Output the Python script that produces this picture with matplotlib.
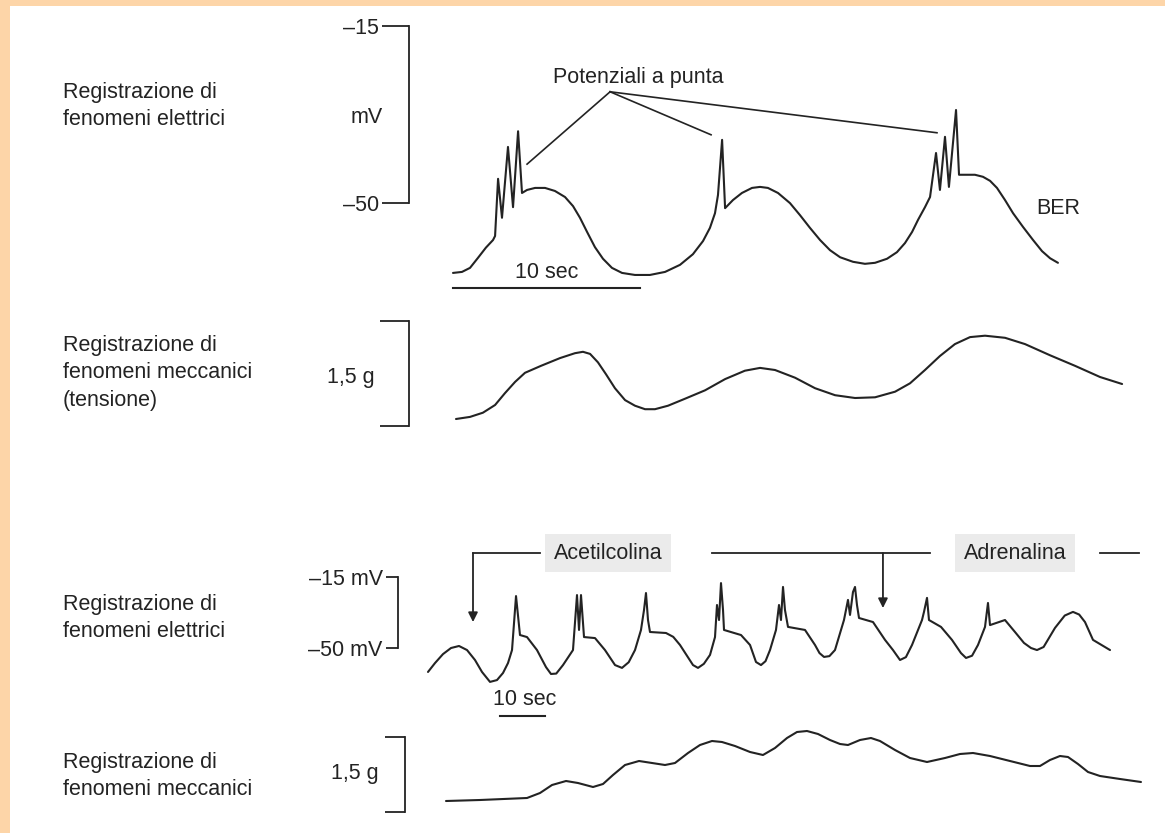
import matplotlib.pyplot as plt
from matplotlib.patches import Rectangle

plt.rcParams['font.family'] = ['Liberation Sans', 'DejaVu Sans']

# ------------------------------------------------------------------------------
# data
# ------------------------------------------------------------------------------

# panel 1: electrical recording (s, mV)
t_elec1 = [0.0, 0.48, 0.91, 1.34, 1.76, 2.14, 2.25, 2.41, 2.62, 2.94, 3.21, 3.48,
           3.69, 3.96, 4.39, 4.92, 5.45, 5.99, 6.42, 6.79, 7.17, 7.59, 8.02, 8.5,
           9.04, 9.73, 10.53, 11.34, 12.14, 12.83, 13.37, 13.74, 14.01, 14.17,
           14.39, 14.55, 14.97, 15.45, 15.99, 16.42, 16.84, 17.38, 18.02, 18.56,
           19.09, 19.63, 20.16, 20.7, 21.39, 22.03, 22.57, 23.21, 23.74, 24.17,
           24.55, 24.87, 25.24, 25.51, 25.83, 26.04, 26.31, 26.52, 26.9, 27.06,
           27.91, 28.34, 28.72, 29.09, 29.52, 29.95, 30.48, 31.02, 31.5, 31.93,
           32.35]
mv_elec1 = [-63.8, -63.6, -62.8, -60.8, -58.8, -57.3, -56.5, -45.2, -52.9, -38.9,
            -50.8, -35.8, -48.0, -47.4, -47.0, -47.0, -47.6, -48.8, -50.6, -52.9,
            -55.7, -58.7, -61.0, -62.8, -63.8, -64.2, -64.2, -63.6, -62.2, -60.1,
            -57.5, -54.9, -52.0, -48.4, -37.5, -51.0, -49.4, -48.0, -47.0, -46.8,
            -47.0, -48.0, -50.0, -52.4, -54.9, -57.3, -59.3, -60.7, -61.6, -62.0,
            -61.8, -61.0, -59.7, -57.9, -55.7, -53.3, -50.8, -48.8, -40.1, -47.4,
            -36.9, -46.8, -31.6, -44.4, -44.4, -44.8, -45.6, -47.0, -49.4, -52.0,
            -54.7, -57.3, -59.5, -60.9, -61.8]

# panel 2: mechanical recording, tension (s, g)
t_mech1 = [0.16, 0.91, 1.6, 2.25, 2.78, 3.32, 3.85, 4.71, 5.72, 6.52, 6.95, 7.33,
           7.75, 8.18, 8.66, 9.2, 9.73, 10.27, 10.8, 11.5, 12.41, 13.48, 14.55,
           15.61, 16.42, 17.22, 18.29, 19.36, 20.43, 21.5, 22.57, 23.64, 24.44,
           25.24, 26.04, 26.84, 27.65, 28.45, 29.52, 30.59, 31.93, 33.26, 34.6,
           35.78]
g_mech1 = [0.10, 0.13, 0.19, 0.30, 0.47, 0.63, 0.76, 0.86, 0.97, 1.04, 1.06, 1.03,
           0.91, 0.74, 0.54, 0.37, 0.29, 0.24, 0.24, 0.29, 0.39, 0.51, 0.67, 0.79,
           0.83, 0.80, 0.69, 0.54, 0.44, 0.40, 0.41, 0.49, 0.61, 0.80, 1.00, 1.17,
           1.27, 1.29, 1.26, 1.17, 1.01, 0.86, 0.70, 0.60]

# panel 3: electrical recording with drugs (s, mV)
t_elec2 = [0.0, 1.56, 3.33, 5.11, 6.89, 8.67, 10.44, 12.0, 13.78, 15.33,
           16.67, 17.78, 18.67, 19.56, 20.44, 22.0, 24.22, 26.22, 27.33, 28.5,
           30.0, 32.22, 33.11, 33.56, 34.0, 34.67, 37.11, 39.33, 41.56, 43.11,
           44.6, 46.0, 47.33, 48.0, 48.44, 48.89, 49.33, 52.89, 54.5, 56.0,
           58.89, 60.0, 61.3, 62.67, 63.78, 64.22, 64.67, 65.11, 65.56, 65.78,
           69.56, 71.56, 72.89, 74.0, 75.0, 76.0, 77.33, 78.0, 78.44, 78.89,
           79.33, 80.0, 83.78, 86.0, 87.0, 88.0, 89.2, 90.44, 92.44, 93.33,
           93.78, 94.44, 94.89, 95.33, 95.78, 98.89, 101.56, 103.33, 104.89, 106.2,
           107.56, 109.78, 110.22, 110.89, 111.33, 114.0, 116.44, 118.44, 119.56, 120.9,
           122.22, 123.78, 124.44, 124.89, 128.22, 130.44, 132.44, 134.0, 135.33, 136.8,
           139.33, 141.5, 143.33, 144.7, 146.0, 147.78, 151.56]
mv_elec2 = [-61.8, -57.4, -53.0, -50.0, -49.0, -51.0, -55.9, -61.8, -66.7, -65.8,
            -62.3, -57.4, -51.0, -24.4, -43.6, -44.6, -51.0, -59.4, -62.8, -62.6,
            -58.4, -51.0, -23.9, -41.1, -23.9, -44.6, -45.1, -51.0, -58.4, -59.8,
            -57.0, -51.0, -41.1, -31.3, -22.9, -36.2, -42.1, -42.6, -44.5, -48.5,
            -58.4, -59.8, -57.8, -53.4, -44.6, -28.8, -36.2, -18.0, -31.3, -41.1,
            -43.6, -48.5, -56.9, -58.4, -56.5, -51.0, -41.1, -28.8, -36.2, -19.9,
            -31.3, -39.6, -41.1, -48.5, -52.5, -54.4, -54.0, -51.0, -36.2, -26.3,
            -33.7, -22.4, -19.9, -28.8, -35.2, -37.2, -46.0, -51.0, -55.9, -54.5,
            -48.5, -36.2, -32.2, -25.3, -36.2, -39.6, -46.0, -52.5, -54.9, -53.8,
            -48.5, -39.6, -27.8, -38.7, -36.2, -42.1, -47.5, -50.0, -51.0, -49.5,
            -40.1, -34.0, -32.2, -33.5, -37.2, -46.0, -51.0]

# panel 4: mechanical recording with drugs (s, g)
t_mech2 = [4.0, 11.56, 22.0, 24.89, 27.56, 30.67, 33.33, 36.67, 38.89, 41.11,
           43.78, 46.89, 49.78, 52.67, 54.89, 57.78, 60.44, 63.11, 65.33, 68.22,
           71.56, 74.44, 77.11, 79.78, 82.0, 84.22, 86.67, 89.33, 91.56, 93.33,
           96.0, 98.44, 100.44, 103.78, 107.11, 110.89, 114.89, 118.22, 121.11,
           124.89, 129.33, 133.78, 136.0, 138.22, 140.44, 142.22, 144.44, 146.67,
           149.33, 153.78, 158.44]
g_mech2 = [0.22, 0.24, 0.28, 0.38, 0.54, 0.62, 0.58, 0.50, 0.56, 0.74, 0.94, 1.02,
           0.98, 0.94, 0.98, 1.18, 1.34, 1.42, 1.40, 1.32, 1.20, 1.14, 1.28, 1.48,
           1.60, 1.62, 1.56, 1.44, 1.36, 1.34, 1.44, 1.48, 1.42, 1.24, 1.08, 1.00,
           1.08, 1.16, 1.18, 1.12, 1.02, 0.92, 0.92, 1.04, 1.12, 1.10, 0.96, 0.80,
           0.72, 0.66, 0.60]

row_labels = ['Registrazione di\nfenomeni elettrici',
              'Registrazione di\nfenomeni meccanici\n(tensione)',
              'Registrazione di\nfenomeni elettrici',
              'Registrazione di\nfenomeni meccanici']

# ------------------------------------------------------------------------------

W, H = 1165, 833
INK = '#232323'
FS = 15.5

fig = plt.figure(figsize=(W / 100, H / 100), dpi=100)
fig.patch.set_facecolor('#fdd5a8')
fig.add_artist(Rectangle((10 / W, 0), 1 - 10 / W, 1 - 6 / H, transform=fig.transFigure,
                         facecolor='white', edgecolor='none', zorder=0))


def add_panel(left, right, top, bottom, x_at, y_at):
    """axes placed by pixel box; x_at / y_at map a pixel to a data value"""
    ax = fig.add_axes([left / W, 1 - bottom / H, (right - left) / W, (bottom - top) / H])
    ax.set_facecolor('none')
    ax.set_xlim(x_at(left), x_at(right))
    ax.set_ylim(y_at(bottom), y_at(top))
    for side in ('top', 'right', 'bottom'):
        ax.spines[side].set_visible(False)
    ax.set_xticks([])
    return ax


def bracket(ax, lo, hi, labels, length):
    ax.spines['left'].set_bounds(lo, hi)
    ax.spines['left'].set_color(INK)
    ax.spines['left'].set_linewidth(1.3)
    ax.set_yticks([lo, hi], labels=labels)
    ax.tick_params(axis='y', length=length, width=1.3, color=INK, pad=2,
                   labelsize=FS, labelcolor=INK)


def trace(ax, x, y):
    ax.plot(x, y, color=INK, lw=1.5, solid_joinstyle='round', solid_capstyle='round')


# panel 1 ----------------------------------------------------------------------
ax1 = add_panel(409, 1160, 15, 300,
                lambda px: (px - 453) / 18.7,
                lambda px: -15 - (px - 26) / 5.06)
bracket(ax1, -50, -15, ['–50', '–15'], 19.5)
trace(ax1, t_elec1, mv_elec1)
ax1.annotate('mV', xy=(0, -33), xycoords=('axes fraction', 'data'), xytext=(-19, 0),
             textcoords='offset points', ha='right', va='center', fontsize=FS, color=INK)
ax1.text(9.9, -25.1, 'Potenziali a punta', ha='center', va='center', fontsize=FS, color=INK)
for t_end, v_end in [(3.96, -42.3), (13.8, -36.5), (25.88, -36.1)]:
    ax1.plot([8.4, t_end], [-28.0, v_end], color=INK, lw=1.2)
ax1.plot([0, 10], [-66.8, -66.8], color=INK, lw=1.5)
ax1.text(5.0, -63.8, '10 sec', ha='center', va='center', fontsize=FS, color=INK)
ax1.text(31.2, -51.0, 'BER', ha='left', va='center', fontsize=FS, color=INK)

# panel 2 ----------------------------------------------------------------------
ax2 = add_panel(409, 1160, 305, 440,
                lambda px: (px - 453) / 18.7,
                lambda px: (426 - px) / 70)
bracket(ax2, 0, 1.5, ['', ''], 21)
trace(ax2, t_mech1, g_mech1)
ax2.annotate('1,5 g', xy=(0, 0.7), xycoords=('axes fraction', 'data'), xytext=(-25, 0),
             textcoords='offset points', ha='right', va='center', fontsize=FS, color=INK)

# panel 3 ----------------------------------------------------------------------
ax3 = add_panel(398, 1160, 530, 725,
                lambda px: (px - 428) / 4.5,
                lambda px: -15 - (px - 577) / 2.029)
bracket(ax3, -50, -15, ['–50 mV', '–15 mV'], 9)
trace(ax3, t_elec2, mv_elec2)
ax3.plot([16, 26], [-83.5, -83.5], color=INK, lw=1.5)
ax3.text(21.5, -75.6, '10 sec', ha='center', va='center', fontsize=FS, color=INK)

drug_y = -3.2
for t_a, t_b in [(10.0, 24.9), (63.1, 111.6), (149.3, 158.0)]:
    ax3.plot([t_a, t_b], [drug_y, drug_y], color=INK, lw=1.3)
for label, t_mid in [('Acetilcolina', 40.0), ('Adrenalina', 130.4)]:
    ax3.text(t_mid, drug_y, label, ha='center', va='center', fontsize=FS, color=INK,
             bbox=dict(boxstyle='square,pad=0.4', facecolor='#ebebeb', edgecolor='none'))
for t_arrow, v_tip in [(10.0, -37.2), (101.1, -30.3)]:
    ax3.annotate('', xy=(t_arrow, v_tip), xytext=(t_arrow, drug_y),
                 arrowprops=dict(arrowstyle='-|>', color=INK, lw=1.3,
                                 mutation_scale=14, shrinkA=0, shrinkB=0))

# panel 4 ----------------------------------------------------------------------
ax4 = add_panel(405, 1160, 728, 830,
                lambda px: (px - 428) / 4.5,
                lambda px: (812 - px) / 50)
bracket(ax4, 0, 1.5, ['', ''], 14.5)
trace(ax4, t_mech2, g_mech2)
ax4.annotate('1,5 g', xy=(0, 0.78), xycoords=('axes fraction', 'data'), xytext=(-19, 0),
             textcoords='offset points', ha='right', va='center', fontsize=FS, color=INK)

# row labels -------------------------------------------------------------------
for label, y_px in zip(row_labels, [106, 373, 618, 776]):
    fig.text(63 / W, 1 - y_px / H, label, ha='left', va='center', fontsize=FS,
             color=INK, linespacing=1.4)

fig.savefig('out.png', dpi=100)
